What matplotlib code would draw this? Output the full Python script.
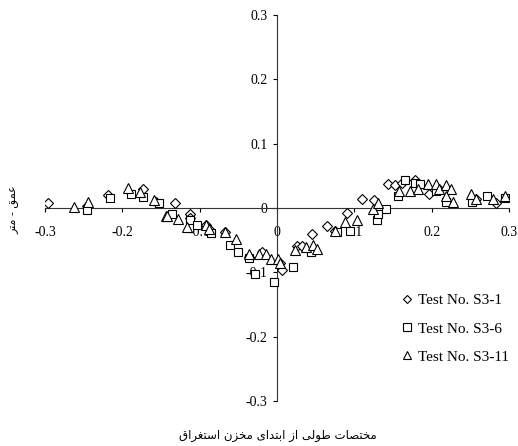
import matplotlib
matplotlib.use("Agg")
import matplotlib.pyplot as plt

# Test No. S3-1 (diamonds)
s1_x = [-0.296, -0.246, -0.218, -0.173, -0.157, -0.132, -0.113, -0.113, -0.092, -0.088,
        -0.067, -0.036, -0.019, 0.004, 0.006, 0.026, 0.032, 0.045, 0.065, 0.075,
        0.090, 0.110, 0.125, 0.143, 0.152, 0.162, 0.178, 0.197, 0.210, 0.257, 0.283]
s1_y = [0.008, 0.003, 0.020, 0.029, 0.010, 0.007, -0.009, -0.015, -0.027, -0.033,
        -0.038, -0.076, -0.069, -0.086, -0.096, -0.059, -0.059, -0.040, -0.028, -0.035,
        -0.008, 0.014, 0.012, 0.037, 0.035, 0.039, 0.044, 0.021, 0.030, 0.014, 0.008]

# Test No. S3-6 (squares)
s6_x = [-0.246, -0.216, -0.189, -0.173, -0.152, -0.136, -0.113, -0.103, -0.085, -0.061,
        -0.051, -0.036, -0.028, -0.004, 0.021, 0.044, 0.078, 0.094, 0.129, 0.131,
        0.141, 0.157, 0.166, 0.179, 0.185, 0.206, 0.219, 0.252, 0.271, 0.295]
s6_y = [-0.003, 0.015, 0.022, 0.017, 0.007, -0.009, -0.018, -0.026, -0.039, -0.058,
        -0.069, -0.078, -0.103, -0.115, -0.091, -0.069, -0.038, -0.035, -0.018, -0.010,
        -0.001, 0.018, 0.043, 0.039, 0.037, 0.026, 0.009, 0.009, 0.018, 0.016]

# Test No. S3-11 (triangles)
s11_x = [-0.263, -0.244, -0.193, -0.177, -0.159, -0.144, -0.142, -0.128, -0.116, -0.092,
         -0.088, -0.067, -0.053, -0.036, -0.023, -0.014, -0.008, 0.001, 0.004, 0.023,
         0.037, 0.046, 0.052, 0.075, 0.088, 0.104, 0.124, 0.131, 0.158, 0.172,
         0.182, 0.195, 0.206, 0.210, 0.218, 0.225, 0.219, 0.228, 0.251, 0.257,
         0.279, 0.295]
s11_y = [0.001, 0.010, 0.031, 0.025, 0.012, -0.013, -0.012, -0.017, -0.029, -0.027,
         -0.033, -0.038, -0.048, -0.071, -0.072, -0.072, -0.079, -0.080, -0.086, -0.066,
         -0.060, -0.057, -0.063, -0.035, -0.022, -0.018, -0.002, 0.008, 0.026, 0.026,
         0.029, 0.038, 0.037, 0.030, 0.035, 0.030, 0.018, 0.009, 0.021, 0.014,
         0.014, 0.018]

ticks = [-0.3, -0.2, -0.1, 0, 0.1, 0.2, 0.3]
tick_labels = ["-0.3", "-0.2", "-0.1", "0", "0.1", "0.2", "0.3"]
x_title = "مختصات طولی از ابتدای مخزن استغراق"
y_title = "عمق - متر"

# matplotlib does no arabic shaping, so pick the presentation forms by hand
# (isolated, final, initial, medial); None = letter does not join to the next one
FORMS = {
    "ا": ("\uFE8D", "\uFE8E", None, None),
    "ب": ("\uFE8F", "\uFE90", "\uFE91", "\uFE92"),
    "ت": ("\uFE95", "\uFE96", "\uFE97", "\uFE98"),
    "خ": ("\uFEA5", "\uFEA6", "\uFEA7", "\uFEA8"),
    "د": ("\uFEA9", "\uFEAA", None, None),
    "ر": ("\uFEAD", "\uFEAE", None, None),
    "ز": ("\uFEAF", "\uFEB0", None, None),
    "س": ("\uFEB1", "\uFEB2", "\uFEB3", "\uFEB4"),
    "ص": ("\uFEB9", "\uFEBA", "\uFEBB", "\uFEBC"),
    "ط": ("\uFEC1", "\uFEC2", "\uFEC3", "\uFEC4"),
    "ع": ("\uFEC9", "\uFECA", "\uFECB", "\uFECC"),
    "غ": ("\uFECD", "\uFECE", "\uFECF", "\uFED0"),
    "ق": ("\uFED5", "\uFED6", "\uFED7", "\uFED8"),
    "ل": ("\uFEDD", "\uFEDE", "\uFEDF", "\uFEE0"),
    "م": ("\uFEE1", "\uFEE2", "\uFEE3", "\uFEE4"),
    "ن": ("\uFEE5", "\uFEE6", "\uFEE7", "\uFEE8"),
    "و": ("\uFEED", "\uFEEE", None, None),
    "ی": ("\uFEEF", "\uFEF0", None, None),
}


def shape(text):
    out = []
    for i, ch in enumerate(text):
        if ch not in FORMS:
            out.append(ch)
            continue
        prev = text[i - 1] if i > 0 else ""
        nxt = text[i + 1] if i + 1 < len(text) else ""
        join_prev = prev in FORMS and FORMS[prev][2] is not None
        join_next = FORMS[ch][2] is not None and nxt in FORMS
        if join_prev and join_next:
            out.append(FORMS[ch][3])
        elif join_prev:
            out.append(FORMS[ch][1])
        elif join_next:
            out.append(FORMS[ch][2])
        else:
            out.append(FORMS[ch][0])
    return "".join(out)[::-1]


plt.rcParams["font.family"] = ["Liberation Serif", "DejaVu Sans"]

fig = plt.figure(figsize=(5.18, 4.46), dpi=100)
ax = fig.add_axes([45 / 518, 1 - 401 / 446, 464 / 518, 386 / 446])

mk = dict(linestyle="none", markerfacecolor="white", markeredgecolor="black",
          markeredgewidth=0.8, zorder=3)
ax.plot(s1_x, s1_y, marker="D", markersize=5, label="Test No. S3-1", **mk)
ax.plot(s6_x, s6_y, marker="s", markersize=6, label="Test No. S3-6", **mk)
ax.plot(s11_x, s11_y, marker="^", markersize=7, label="Test No. S3-11", **mk)

ax.set_xlim(-0.3, 0.3)
ax.set_ylim(-0.3, 0.3)
ax.spines["left"].set_position(("data", 0))
ax.spines["bottom"].set_position(("data", 0))
ax.spines["right"].set_visible(False)
ax.spines["top"].set_visible(False)
for s in ["left", "bottom"]:
    ax.spines[s].set_linewidth(0.8)
    ax.spines[s].set_color("#333333")

ax.set_xticks(ticks)
ax.set_xticklabels(tick_labels)
ax.set_yticks(ticks)
ax.set_yticklabels(tick_labels)
ax.tick_params(axis="x", direction="out", length=3, width=0.8, pad=10, labelsize=10)
ax.tick_params(axis="y", direction="out", length=3, width=0.8, pad=4, labelsize=10)

ax.legend(loc="upper left", bbox_to_anchor=(394 / 518, 1 - 286 / 446),
          bbox_transform=fig.transFigure, frameon=False, fontsize=11,
          handlelength=0.7, handletextpad=0.4, labelspacing=0.95, borderpad=0,
          markerscale=0.85)

fig.text(278 / 518, 1 - 435 / 446, shape(x_title), family="DejaVu Sans",
         fontsize=8.5, ha="center", va="center")
fig.text(15 / 518, 1 - 210 / 446, shape(y_title), family="DejaVu Sans",
         fontsize=8, rotation=90, ha="center", va="center")

fig.savefig("out.png", dpi=100)
